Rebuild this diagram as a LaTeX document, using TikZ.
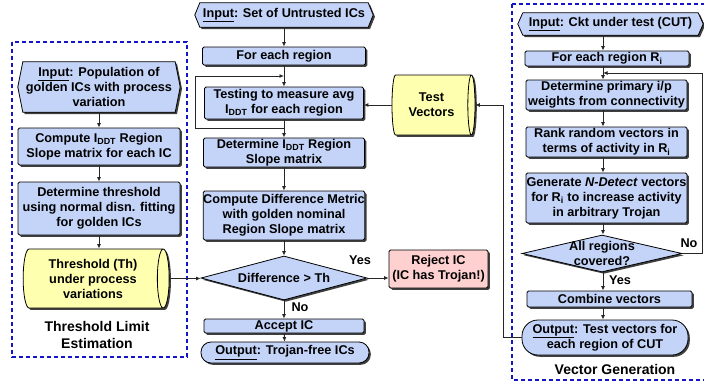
\documentclass[tikz,border=0pt]{standalone}
\usepackage{fontspec}
\setmainfont{Liberation Sans}
\usetikzlibrary{shapes.geometric,shadows,arrows.meta,calc,backgrounds}
\definecolor{bfill}{RGB}{196,212,248}
\definecolor{yfill}{RGB}{255,255,176}
\definecolor{pfill}{RGB}{255,208,208}
\definecolor{dblue}{RGB}{20,20,200}
\tikzset{
  every node/.style={font=\bfseries\fontsize{12.7}{15}\selectfont, align=center},
  shad/.style={drop shadow={shadow xshift=1.8pt, shadow yshift=-1.8pt, fill=black!75, opacity=1}},
  bx/.style={draw=black, line width=0.8pt, fill=bfill, rounded corners=1.5pt, inner sep=0pt, shad},
  hexs/.style={draw=black, line width=0.8pt, fill=bfill, shad},
  cyl/.style={cylinder, draw=black, line width=0.8pt, fill=yfill, aspect=0.3, inner sep=0pt, shad},
  dia/.style={diamond, draw=black, line width=0.8pt, fill=bfill, inner sep=0pt, shad},
  txt/.style={inner sep=0pt},
  glabel/.style={inner sep=0pt, font=\bfseries\fontsize{14}{17}\selectfont},
  arr/.style={-{Latex[length=4.5pt,width=4pt]}, line width=0.9pt, black!85},
  grp/.style={draw=dblue, dash pattern=on 4pt off 3pt, line width=1.2pt},
}
\begin{document}
\begin{tikzpicture}[x=1pt,y=-1pt]
\clip (0,0) rectangle (704,383);

% group frames
\draw[grp] (12,42) rectangle (187,357);
\draw[grp] (512,4) rectangle (712,380);

% ---------- left column ----------
\node[txt, minimum width=152pt, minimum height=50pt] (lin) at (99,87)
  {\underline{Input}: Population of\\golden ICs with process\\variation};
\node[bx, minimum width=162pt, minimum height=37pt] (lcomp) at (99,146.5)
  {Compute I\textsubscript{DDT} Region\\Slope matrix for each IC};
\node[bx, minimum width=162pt, minimum height=53pt] (ldet) at (99,208.5)
  {Determine threshold\\using normal disn. fitting\\for golden ICs};
\node[cyl, minimum height=146pt, minimum width=59pt] (lth) at (93,278.5)
  {Threshold (Th)\\under process\\variations};
\node[glabel] (lgl) at (97,335) {Threshold Limit\\Estimation};

% ---------- middle column ----------
\node[txt, minimum width=168pt, minimum height=24pt] (min) at (284,15)
  {\underline{Input}: Set of Untrusted ICs};
\node[bx, minimum width=163pt, minimum height=18pt] (mfor) at (284,56) {For each region};
\node[bx, minimum width=159pt, minimum height=32pt] (mtest) at (284,103)
  {Testing to measure avg\\I\textsubscript{DDT} for each region};
\node[bx, minimum width=161pt, minimum height=29pt] (mdet) at (284,152.5)
  {Determine I\textsubscript{DDT} Region\\Slope matrix};
\node[bx, minimum width=161pt, minimum height=49pt] (mcomp) at (284,215.5)
  {Compute Difference Metric\\with golden nominal\\Region Slope matrix};
\node[dia, minimum width=166pt, minimum height=44pt] (mdia) at (284,278) {};
\node[txt] (mdiat) at (mdia) {Difference > Th};
\node[bx, minimum width=160pt, minimum height=14pt] (macc) at (284,326) {Accept IC};
\node[bx, rounded corners=10pt, minimum width=168pt, minimum height=21pt] (mout) at (285,352.5)
  {\underline{Output}: Trojan-free ICs};
\node[txt] (yes1) at (360,260) {Yes};
\node[txt] (no1) at (300,307) {No};

% ---------- test vectors / reject ----------
\node[cyl, minimum height=83pt, minimum width=60pt] (tv) at (431.5,105) {Test\\Vectors};
\node[bx, fill=pfill, minimum width=99pt, minimum height=38pt] (rej) at (438.5,269)
  {Reject IC\\(IC has Trojan!)};

% ---------- right column ----------
\node[txt, minimum width=175pt, minimum height=22pt] (rin) at (610.5,24)
  {\underline{Input}: Ckt under test (CUT)};
\node[bx, minimum width=164pt, minimum height=15pt] (rfor) at (607,58.5)
  {For each region R\textsubscript{i}};
\node[bx, minimum width=161pt, minimum height=30pt] (rdet) at (606.5,95)
  {Determine primary i/p\\weights from connectivity};
\node[bx, minimum width=161pt, minimum height=30pt] (rrank) at (606.5,142)
  {Rank random vectors in\\terms of activity in R\textsubscript{i}};
\node[bx, minimum width=161pt, minimum height=50pt] (rgen) at (606.5,198)
  {Generate \textit{N-Detect} vectors\\for R\textsubscript{i} to increase activity\\in arbitrary Trojan};
\node[dia, minimum width=160pt, minimum height=37pt] (rdia) at (602,253.5) {};
\node[txt] (rdiat) at (rdia) {All regions\\covered?};
\node[bx, minimum width=165pt, minimum height=16pt] (rcomb) at (609.5,299) {Combine vectors};
\node[bx, rounded corners=16pt, minimum width=166pt, minimum height=35pt] (rout) at (605,337.5)
  {\underline{Output}: Test vectors for\\each region of CUT};
\node[txt] (no2) at (689,243) {No};
\node[txt] (yes2) at (620,280) {Yes};
\node[glabel] (rgl) at (615,369) {Vector Generation};

% hexagon outlines and page background
\begin{scope}[on background layer]
\fill[white] (0,0) rectangle (704,383);
\path[hexs] ([xshift=-5pt]lin.west) -- (lin.north west) -- (lin.north east) -- ([xshift=5pt]lin.east)
  -- (lin.south east) -- (lin.south west) -- cycle;
\path[hexs] ([xshift=-5pt]min.west) -- (min.north west) -- (min.north east) -- ([xshift=5pt]min.east)
  -- (min.south east) -- (min.south west) -- cycle;
\path[hexs] ([xshift=-5pt]rin.west) -- (rin.north west) -- (rin.north east) -- ([xshift=5pt]rin.east)
  -- (rin.south east) -- (rin.south west) -- cycle;
\end{scope}

% ---------- connectors ----------
\draw[arr] (lin) -- (lcomp);
\draw[arr] (lcomp) -- (ldet);
\draw[arr] (ldet.south) -- (ldet.south |- lth.north);
\draw[arr] (lth.east) -- (lth.east -| mdia.west);

\draw[arr] (min) -- (mfor);
\draw[arr] (mfor) -- (mtest);
\draw[arr] (mtest) -- (mdet);
\draw[arr] (mdet) -- (mcomp);
\draw[arr] (mcomp) -- (mdia);
\draw[arr] (mdia) -- (macc);
\draw[arr] (macc) -- (mout);
\coordinate (lpa) at ($(mtest.south)!0.5!(mdet.north)$);
\coordinate (lpb) at ($(mfor.south)!0.5!(mtest.north)$);
\coordinate (lpx) at (195,0);
\draw[arr] (lpa) -- (lpa -| lpx) |- (lpb);

\draw[arr] (tv.west) -- (tv.west -| mtest.east);
\draw[arr] (mdia.east) -- (mdia.east -| rej.west);

\coordinate (rx) at (603,0);
\draw[arr] (rin.south -| rx) -- (rfor.north -| rx);
\draw[arr] (rfor.south -| rx) -- (rdet.north -| rx);
\draw[arr] (rdet.south -| rx) -- (rrank.north -| rx);
\draw[arr] (rrank.south -| rx) -- (rgen.north -| rx);
\draw[arr] (rgen.south -| rx) -- (rdia.north -| rx);
\draw[arr] (rdia.south -| rx) -- (rcomb.north -| rx);
\draw[arr] (rcomb.south -| rx) -- (rout.north -| rx);
\coordinate (rlp) at ($(rfor.south -| rx)!0.5!(rdet.north -| rx)$);
\coordinate (rex) at (702,0);
\draw[arr] (rdia.east) -- (rdia.east -| rex) |- (rlp);
\coordinate (ox) at (503,0);
\draw[arr] (rout.west) -- (rout.west -| ox) |- (tv.east);
\end{tikzpicture}
\end{document}
